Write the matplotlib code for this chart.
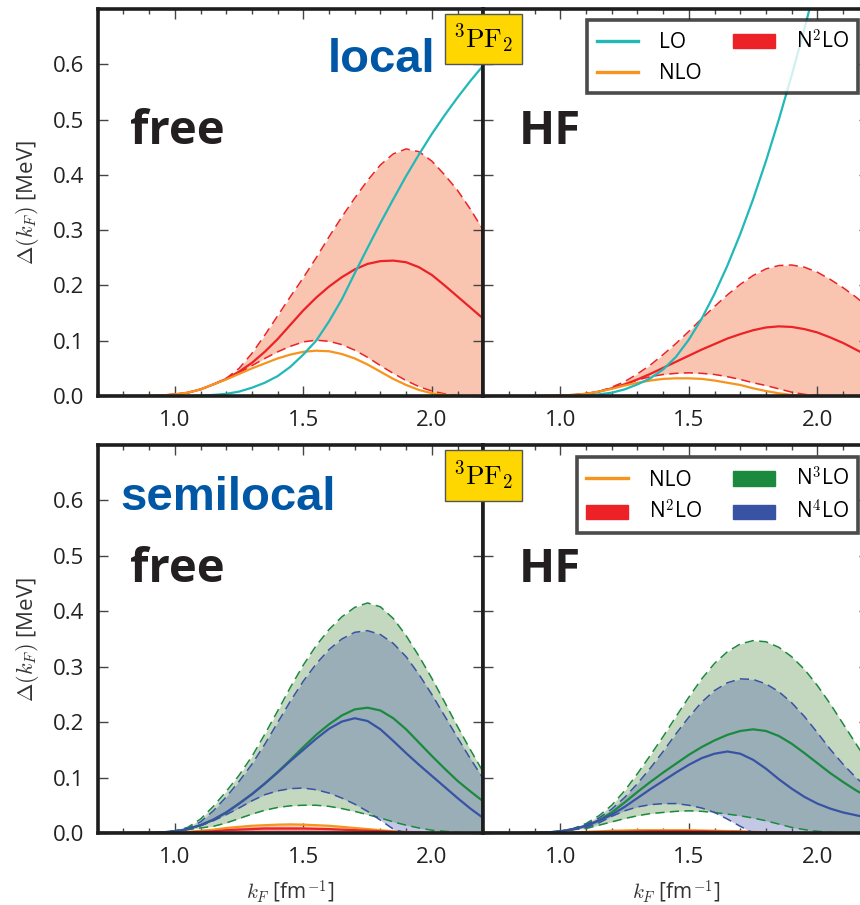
import matplotlib as mpl
mpl.use('Agg')
import matplotlib.pyplot as plt
from matplotlib.patches import Patch
from matplotlib.lines import Line2D
from matplotlib.ticker import MultipleLocator, FixedLocator

plt.rcParams['font.family'] = ['Open Sans', 'DejaVu Sans']
plt.rcParams['mathtext.fontset'] = 'cm'

# Fermi momentum grid [fm^-1]
kF = [0.70, 0.75, 0.80, 0.85, 0.90, 0.95, 1.00, 1.05, 1.10, 1.15, 1.20, 1.25, 1.30, 1.35, 1.40, 1.45,
      1.50, 1.55, 1.60, 1.65, 1.70, 1.75, 1.80, 1.85, 1.90, 1.95, 2.00, 2.05, 2.10, 2.15, 2.20]

# ---- local, free spectrum
lo_loc_free = [0, 0, 0, 0, 0, 0, 0, 0.0003, 0.001, 0.002, 0.004, 0.008, 0.015, 0.024, 0.036, 0.053,
               0.075, 0.100, 0.135, 0.175, 0.222, 0.268, 0.313, 0.356, 0.398, 0.437, 0.474, 0.508, 0.540, 0.570, 0.598]
nlo_loc_free = [0, 0, 0, 0, 0.0003, 0.001, 0.003, 0.006, 0.012, 0.021, 0.030, 0.040, 0.050, 0.059, 0.068, 0.075,
                0.080, 0.082, 0.081, 0.076, 0.068, 0.057, 0.044, 0.031, 0.020, 0.011, 0.005, 0.002, 0, 0, 0]
n2lo_loc_free = [0, 0, 0, 0, 0.0003, 0.001, 0.003, 0.006, 0.012, 0.021, 0.031, 0.044, 0.060, 0.080, 0.103, 0.129,
                 0.155, 0.178, 0.198, 0.215, 0.229, 0.239, 0.244, 0.245, 0.242, 0.233, 0.219, 0.200, 0.180, 0.160, 0.140]
n2lo_loc_free_hi = [0, 0, 0, 0, 0.0003, 0.001, 0.003, 0.006, 0.012, 0.021, 0.032, 0.050, 0.077, 0.110, 0.145, 0.180,
                    0.214, 0.250, 0.288, 0.324, 0.358, 0.390, 0.418, 0.438, 0.447, 0.442, 0.425, 0.400, 0.372, 0.338, 0.300]
n2lo_loc_free_lo = [0, 0, 0, 0, 0.0003, 0.001, 0.003, 0.006, 0.012, 0.021, 0.030, 0.042, 0.055, 0.068, 0.080, 0.090,
                    0.098, 0.101, 0.099, 0.093, 0.083, 0.070, 0.055, 0.041, 0.028, 0.017, 0.009, 0.004, 0.001, 0, 0]

# ---- local, HF spectrum
lo_loc_hf = [0, 0, 0, 0, 0, 0, 0, 0.0003, 0.001, 0.003, 0.006, 0.012, 0.021, 0.032, 0.048, 0.071,
             0.102, 0.140, 0.185, 0.236, 0.293, 0.356, 0.425, 0.500, 0.580, 0.665, 0.755, 0.850, 0.950, 1.050, 1.150]
nlo_loc_hf = [0, 0, 0, 0, 0, 0.0005, 0.001, 0.002, 0.004, 0.008, 0.013, 0.019, 0.024, 0.028, 0.031, 0.032,
              0.032, 0.031, 0.028, 0.024, 0.020, 0.014, 0.009, 0.005, 0.002, 0.001, 0, 0, 0, 0, 0]
n2lo_loc_hf = [0, 0, 0, 0, 0, 0.0005, 0.001, 0.002, 0.004, 0.008, 0.014, 0.021, 0.030, 0.040, 0.051, 0.062,
               0.073, 0.084, 0.094, 0.104, 0.112, 0.119, 0.124, 0.126, 0.125, 0.121, 0.115, 0.106, 0.096, 0.084, 0.072]
n2lo_loc_hf_hi = [0, 0, 0, 0, 0, 0.0005, 0.001, 0.002, 0.004, 0.008, 0.016, 0.026, 0.040, 0.056, 0.075, 0.095,
                  0.117, 0.140, 0.162, 0.183, 0.202, 0.218, 0.230, 0.236, 0.237, 0.233, 0.224, 0.211, 0.196, 0.179, 0.160]
n2lo_loc_hf_lo = [0, 0, 0, 0, 0, 0.0005, 0.001, 0.002, 0.004, 0.008, 0.014, 0.021, 0.029, 0.035, 0.039, 0.041,
                  0.042, 0.041, 0.039, 0.035, 0.030, 0.024, 0.019, 0.013, 0.007, 0.003, 0.001, 0, 0, 0, 0]

# ---- semilocal, free spectrum
nlo_sl_free = [0, 0, 0, 0, 0, 0.0005, 0.001, 0.002, 0.004, 0.006, 0.009, 0.011, 0.013, 0.014, 0.015, 0.0155,
               0.015, 0.014, 0.013, 0.011, 0.009, 0.007, 0.005, 0.003, 0.002, 0.001, 0.0005, 0, 0, 0, 0]
n2lo_sl_free = [0, 0, 0, 0, 0, 0, 0.0005, 0.001, 0.002, 0.003, 0.005, 0.006, 0.007, 0.008, 0.008, 0.008,
                0.008, 0.0075, 0.007, 0.006, 0.005, 0.004, 0.003, 0.002, 0.001, 0.0005, 0, 0, 0, 0, 0]
n2lo_sl_free_hi = [0, 0, 0, 0, 0, 0, 0.001, 0.002, 0.004, 0.006, 0.008, 0.010, 0.011, 0.012, 0.012, 0.012,
                   0.011, 0.010, 0.009, 0.007, 0.005, 0.004, 0.002, 0.001, 0.0005, 0, 0, 0, 0, 0, 0]
n2lo_sl_free_lo = [0, 0, 0, 0, 0, 0, 0, 0.0005, 0.001, 0.001, 0.002, 0.002, 0.003, 0.003, 0.003, 0.003,
                   0.003, 0.003, 0.002, 0.002, 0.002, 0.001, 0.001, 0.0005, 0, 0, 0, 0, 0, 0, 0]
n3lo_sl_free = [0, 0, 0, 0, 0.0005, 0.001, 0.003, 0.007, 0.014, 0.024, 0.037, 0.053, 0.070, 0.089, 0.110, 0.132,
                0.155, 0.177, 0.196, 0.212, 0.223, 0.226, 0.221, 0.207, 0.187, 0.163, 0.139, 0.116, 0.094, 0.075, 0.057]
n3lo_sl_free_hi = [0, 0, 0, 0, 0.0005, 0.001, 0.004, 0.010, 0.025, 0.048, 0.075, 0.104, 0.138, 0.178, 0.220, 0.263,
                   0.303, 0.338, 0.367, 0.390, 0.407, 0.415, 0.408, 0.387, 0.356, 0.319, 0.279, 0.236, 0.192, 0.150, 0.110]
n3lo_sl_free_lo = [0, 0, 0, 0, 0.0005, 0.001, 0.003, 0.006, 0.009, 0.012, 0.018, 0.026, 0.034, 0.041, 0.046, 0.049,
                   0.050, 0.050, 0.048, 0.044, 0.039, 0.033, 0.027, 0.020, 0.014, 0.009, 0.005, 0.003, 0.001, 0, 0]
n4lo_sl_free = [0, 0, 0, 0, 0.0005, 0.001, 0.003, 0.007, 0.014, 0.024, 0.037, 0.053, 0.070, 0.089, 0.109, 0.130,
                0.150, 0.170, 0.188, 0.201, 0.207, 0.202, 0.187, 0.166, 0.144, 0.123, 0.103, 0.083, 0.063, 0.044, 0.027]
n4lo_sl_free_hi = [0, 0, 0, 0, 0.0005, 0.001, 0.003, 0.008, 0.020, 0.040, 0.065, 0.093, 0.124, 0.160, 0.199, 0.238,
                   0.274, 0.305, 0.331, 0.350, 0.362, 0.365, 0.358, 0.342, 0.318, 0.286, 0.250, 0.211, 0.172, 0.134, 0.098]
n4lo_sl_free_lo = [0, 0, 0, 0, 0.0005, 0.001, 0.003, 0.007, 0.013, 0.022, 0.033, 0.045, 0.058, 0.069, 0.076, 0.080,
                   0.081, 0.078, 0.072, 0.063, 0.052, 0.039, 0.023, 0.007, 0, 0, 0, 0, 0, 0, 0]

# ---- semilocal, HF spectrum
nlo_sl_hf = [0, 0, 0, 0, 0, 0, 0.0005, 0.001, 0.002, 0.003, 0.004, 0.0045, 0.005, 0.005, 0.005, 0.005,
             0.005, 0.0045, 0.004, 0.0035, 0.003, 0.002, 0.0015, 0.001, 0.0005, 0, 0, 0, 0, 0, 0]
n2lo_sl_hf = [0, 0, 0, 0, 0, 0, 0, 0.0005, 0.001, 0.0015, 0.002, 0.002, 0.0025, 0.003, 0.003, 0.003,
              0.003, 0.003, 0.0025, 0.002, 0.002, 0.0015, 0.001, 0.0005, 0, 0, 0, 0, 0, 0, 0]
n3lo_sl_hf = [0, 0, 0, 0, 0.0005, 0.001, 0.003, 0.007, 0.013, 0.023, 0.037, 0.055, 0.074, 0.092, 0.109, 0.125,
              0.141, 0.155, 0.167, 0.177, 0.184, 0.187, 0.184, 0.175, 0.161, 0.144, 0.126, 0.108, 0.092, 0.077, 0.064]
n3lo_sl_hf_hi = [0, 0, 0, 0, 0.0005, 0.001, 0.003, 0.008, 0.017, 0.031, 0.050, 0.076, 0.107, 0.140, 0.174, 0.210,
                 0.245, 0.278, 0.306, 0.327, 0.341, 0.347, 0.345, 0.335, 0.318, 0.295, 0.266, 0.233, 0.197, 0.161, 0.125]
n3lo_sl_hf_lo = [0, 0, 0, 0, 0.0005, 0.001, 0.003, 0.006, 0.008, 0.014, 0.020, 0.026, 0.031, 0.035, 0.037, 0.039,
                 0.040, 0.039, 0.037, 0.034, 0.031, 0.027, 0.022, 0.016, 0.010, 0.006, 0.003, 0.001, 0, 0, 0]
n4lo_sl_hf = [0, 0, 0, 0, 0.0005, 0.001, 0.003, 0.007, 0.013, 0.022, 0.033, 0.047, 0.063, 0.079, 0.094, 0.109,
              0.123, 0.135, 0.143, 0.147, 0.143, 0.132, 0.116, 0.097, 0.080, 0.065, 0.053, 0.044, 0.037, 0.032, 0.027]
n4lo_sl_hf_hi = [0, 0, 0, 0, 0.0005, 0.001, 0.003, 0.007, 0.015, 0.027, 0.043, 0.064, 0.089, 0.117, 0.147, 0.179,
                 0.209, 0.236, 0.257, 0.271, 0.278, 0.277, 0.269, 0.255, 0.235, 0.210, 0.181, 0.151, 0.124, 0.100, 0.080]
n4lo_sl_hf_lo = [0, 0, 0, 0, 0.0005, 0.001, 0.003, 0.006, 0.010, 0.018, 0.030, 0.040, 0.047, 0.051, 0.053, 0.053,
                 0.050, 0.045, 0.037, 0.025, 0.012, 0, 0, 0, 0, 0, 0, 0, 0, 0, 0]

c_lo = '#22b8b8'
c_nlo = '#f7941d'
c_n2lo = '#ec2227'
c_n3lo = '#1b8a3f'
c_n4lo = '#3953a4'
fill_n2lo = '#f9c5b1'
fill_n3lo = '#c4d8c0'
dash = (0, (6, 3.5))

fig = plt.figure(figsize=(8.6, 9.05), dpi=100)

L, W, R = 0.1136, 0.4483, 0.5619
axTL = fig.add_axes([L, 0.5624, W, 0.4276])
axTR = fig.add_axes([R, 0.5624, W, 0.4276])
axBL = fig.add_axes([L, 0.0796, W, 0.4287])
axBR = fig.add_axes([R, 0.0796, W, 0.4287])


def style(ax, left):
    ax.set_xlim(0.7, 2.2)
    ax.set_ylim(0, 0.7)
    ax.xaxis.set_major_locator(MultipleLocator(0.5))
    ax.xaxis.set_minor_locator(MultipleLocator(0.1))
    ax.yaxis.set_major_locator(FixedLocator([0, 0.1, 0.2, 0.3, 0.4, 0.5, 0.6]))
    ax.tick_params(which='both', direction='in', top=True, right=True, color='#444',
                   labelsize=16, labelcolor='#222', pad=10)
    ax.tick_params(which='major', length=7, width=1)
    ax.tick_params(which='minor', length=3.5, width=1)
    ax.tick_params(axis='y', which='minor', left=False, right=False)
    ax.tick_params(labelleft=left)
    for s in ax.spines.values():
        s.set_linewidth(2.6)
        s.set_color('#1e1e1e')
        s.set_zorder(10)


def band(ax, mid, hi, lo, col, fill, alpha=1.0, z=1):
    ax.fill_between(kF, lo, hi, color=fill, alpha=alpha, lw=0, zorder=z)
    ax.plot(kF, hi, color=col, lw=1.1, ls=dash, zorder=z + 3)
    ax.plot(kF, lo, color=col, lw=1.1, ls=dash, zorder=z + 3)
    ax.plot(kF, mid, color=col, lw=1.6, zorder=z + 4)


# local panels
band(axTL, n2lo_loc_free, n2lo_loc_free_hi, n2lo_loc_free_lo, c_n2lo, fill_n2lo)
axTL.plot(kF, nlo_loc_free, color=c_nlo, lw=1.6, zorder=6)
axTL.plot(kF, lo_loc_free, color=c_lo, lw=1.6, zorder=7)

band(axTR, n2lo_loc_hf, n2lo_loc_hf_hi, n2lo_loc_hf_lo, c_n2lo, fill_n2lo)
axTR.plot(kF, nlo_loc_hf, color=c_nlo, lw=1.6, zorder=6)
axTR.plot(kF, lo_loc_hf, color=c_lo, lw=1.6, zorder=7)

# semilocal panels
for ax, d in [(axBL, (nlo_sl_free, n2lo_sl_free, n2lo_sl_free_hi, n2lo_sl_free_lo,
                      n3lo_sl_free, n3lo_sl_free_hi, n3lo_sl_free_lo,
                      n4lo_sl_free, n4lo_sl_free_hi, n4lo_sl_free_lo)),
              (axBR, (nlo_sl_hf, n2lo_sl_hf, n2lo_sl_hf, n2lo_sl_hf,
                      n3lo_sl_hf, n3lo_sl_hf_hi, n3lo_sl_hf_lo,
                      n4lo_sl_hf, n4lo_sl_hf_hi, n4lo_sl_hf_lo))]:
    nlo, n2, n2h, n2l, n3, n3h, n3l, n4, n4h, n4l = d
    ax.fill_between(kF, 0, nlo, color='#fbd3b0', lw=0, zorder=1)
    ax.plot(kF, nlo, color=c_nlo, lw=1.6, zorder=2)
    ax.fill_between(kF, n2l, n2h, color='#f6a0a0', lw=0, zorder=2)
    ax.plot(kF, n2, color=c_n2lo, lw=1.6, zorder=3)
    band(ax, n3, n3h, n3l, c_n3lo, fill_n3lo, z=4)
    band(ax, n4, n4h, n4l, c_n4lo, '#3a4fa8', alpha=0.3, z=5)

for ax, left in [(axTL, True), (axTR, False), (axBL, True), (axBR, False)]:
    style(ax, left)

for ax in (axTL, axBL):
    ax.set_ylabel(r'$\Delta(k_F)$ [MeV]', fontsize=16, color='#333', labelpad=8)
for ax in (axBL, axBR):
    ax.set_xlabel(r'$k_F$ [fm$^{-1}$]', fontsize=15, color='#333', labelpad=8)

big = dict(fontsize=34, fontweight='bold', color='#231f20', va='baseline', zorder=20)
axTL.text(0.826, 0.455, 'free', **big)
axTR.text(0.84, 0.455, 'HF', **big)
axBL.text(0.826, 0.452, 'free', **big)
axBR.text(0.84, 0.452, 'HF', **big)

blue = dict(fontsize=34, fontweight='bold', color='#0057a6', va='baseline',
            family='Liberation Sans', zorder=20)
axTL.text(1.597, 0.586, 'local', **blue)
axBL.text(0.787, 0.582, 'semilocal', **blue)

box = dict(boxstyle='square,pad=0.3', fc='#ffd700', ec='#555', lw=1)
for y in (0.957, 0.4746):
    fig.text(0.5622, y, r'$^3\mathrm{PF}_2$', ha='center', va='center', fontsize=19.5,
             bbox=box, zorder=30)

leg_kw = dict(ncol=2, fontsize=15, frameon=True, fancybox=False, borderaxespad=0,
              handlelength=2.0, columnspacing=1.5, handletextpad=1.0, labelspacing=0.45,
              borderpad=0.45, bbox_transform=fig.transFigure, loc='upper right')

h_top = [Line2D([], [], color=c_lo, lw=2.4), Line2D([], [], color=c_nlo, lw=2.4),
         Patch(color=c_n2lo)]
lg = axTR.legend(h_top, ['LO', 'NLO', r'N$^2$LO'], bbox_to_anchor=(0.9977, 0.978), **leg_kw)
lg.get_frame().set_linewidth(2.6)
lg.get_frame().set_edgecolor('#1e1e1e')
lg.set_zorder(30)

h_bot = [Line2D([], [], color=c_nlo, lw=2.4), Patch(color=c_n2lo),
         Patch(color=c_n3lo), Patch(color=c_n4lo)]
lg = axBR.legend(h_bot, ['NLO', r'N$^2$LO', r'N$^3$LO', r'N$^4$LO'],
                 bbox_to_anchor=(0.9977, 0.495), **leg_kw)
lg.get_frame().set_linewidth(2.6)
lg.get_frame().set_edgecolor('#1e1e1e')
lg.set_zorder(30)

fig.savefig('out.png', dpi=100)
